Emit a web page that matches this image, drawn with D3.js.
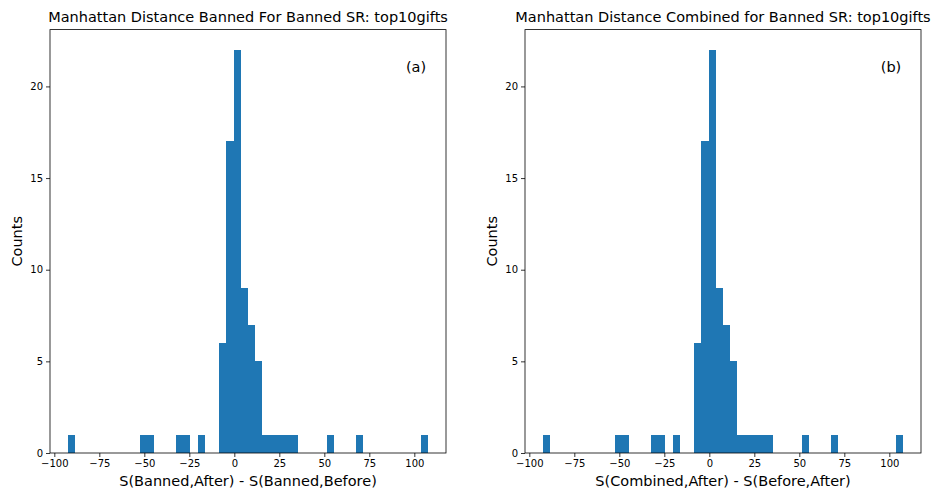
<!DOCTYPE html>
<html>
<head>
<meta charset="utf-8">
<script src="https://cdn.jsdelivr.net/npm/d3@7"></script>
<style>
  body { margin: 0; background: #fff; }
  svg { display: block; font-family: "DejaVu Sans", sans-serif; }
</style>
</head>
<body>
<svg width="933" height="492"></svg>
<script>
// histogram: 50 bins between binMin and binMax
var binMin = -92.4;
var binMax = 107.6;
var countsBanned = [1,0,0,0,0,0,0,0,0,0, 1,1,0,0,0,1,1,0,1,0, 0,6,17,22,9,7,5,1,1,1, 1,1,0,0,0,0,1,0,0,0, 1,0,0,0,0,0,0,0,0,1];
var countsCombined = [1,0,0,0,0,0,0,0,0,0, 1,1,0,0,0,1,1,0,1,0, 0,6,17,22,9,7,5,1,1,1, 1,1,0,0,0,0,1,0,0,0, 1,0,0,0,0,0,0,0,0,1];
var titles = ['Manhattan Distance Banned For Banned SR: top10gifts', 'Manhattan Distance Combined for Banned SR: top10gifts'];
var xLabels = ['S(Banned,After) - S(Banned,Before)', 'S(Combined,After) - S(Before,After)'];
var tags = ['(a)', '(b)'];
var xTicks = [-100, -75, -50, -25, 0, 25, 50, 75, 100];
var yTicks = [0, 5, 10, 15, 20];

var svg = d3.select('svg');
var panels = [
  { left: 50, counts: countsBanned },
  { left: 525, counts: countsCombined }
];
var pw = 396, plotTop = 29.6, plotBottom = 453;

panels.forEach(function (p, i) {
  var n = p.counts.length;
  var w = (binMax - binMin) / n;
  var bins = p.counts.map((c, k) => ({ x0: binMin + k * w, x1: binMin + (k + 1) * w, c: c }));
  var span = binMax - binMin;
  var xScale = d3.scaleLinear()
    .domain([binMin - 0.05 * span, binMax + 0.05 * span])
    .range([p.left, p.left + pw]);
  var yMax = d3.max(p.counts) * 1.05;
  var yScale = d3.scaleLinear().domain([0, yMax]).range([plotBottom, plotTop]);

  var g = svg.append('g');
  g.selectAll('rect.bar')
    .data(bins.filter(d => d.c > 0))
    .enter().append('rect')
    .attr('class', 'bar')
    .attr('x', d => xScale(d.x0))
    .attr('width', d => xScale(d.x1) - xScale(d.x0))
    .attr('y', d => yScale(d.c))
    .attr('height', d => yScale(0) - yScale(d.c))
    .attr('fill', '#1f77b4')
    .attr('shape-rendering', 'crispEdges');

  var xAxis = d3.axisBottom(xScale).tickValues(xTicks).tickSizeOuter(0).tickSize(4).tickPadding(3);
  var yAxis = d3.axisLeft(yScale).tickValues(yTicks).tickSizeOuter(0).tickSize(4).tickPadding(3);
  var gx = g.append('g').attr('transform', `translate(0,${plotBottom})`).call(xAxis);
  var gy = g.append('g').attr('transform', `translate(${p.left},0)`).call(yAxis);
  [gx, gy].forEach(a => {
    a.select('.domain').remove();
    a.selectAll('text').attr('font-size', 10).attr('fill', '#000').attr('font-family', '"DejaVu Sans", sans-serif');
    a.selectAll('line').attr('stroke', '#000').attr('stroke-width', 0.8);
  });

  g.append('rect')
    .attr('x', p.left).attr('y', plotTop)
    .attr('width', pw).attr('height', plotBottom - plotTop)
    .attr('fill', 'none').attr('stroke', '#000').attr('stroke-width', 0.8);

  g.append('text')
    .attr('x', p.left + pw / 2).attr('y', 22)
    .attr('text-anchor', 'middle').attr('font-size', 14.5)
    .text(titles[i]);
  g.append('text')
    .attr('x', p.left + pw / 2).attr('y', 486)
    .attr('text-anchor', 'middle').attr('font-size', 14.5)
    .text(xLabels[i]);
  g.append('text')
    .attr('transform', `translate(${p.left - 28},${(plotTop + plotBottom) / 2}) rotate(-90)`)
    .attr('text-anchor', 'middle').attr('font-size', 14.5)
    .text('Counts');
  g.append('text')
    .attr('x', p.left + pw - 30).attr('y', 72)
    .attr('text-anchor', 'middle').attr('font-size', 14.5)
    .text(tags[i]);
});
</script>
</body>
</html>
